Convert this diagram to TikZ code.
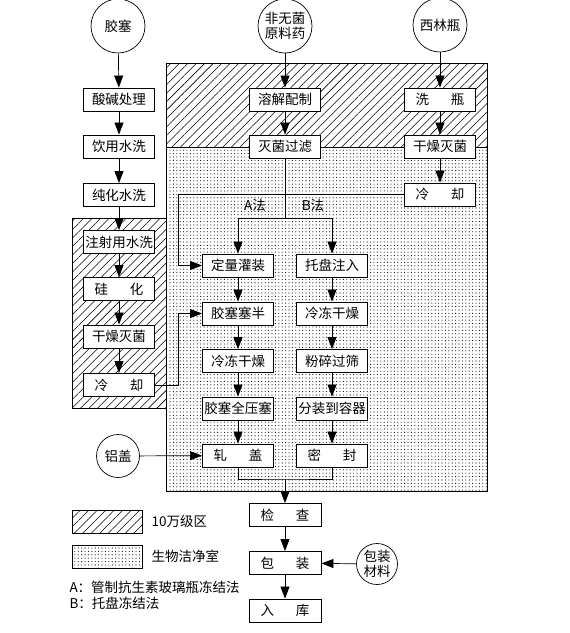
\documentclass[tikz,border=0pt]{standalone}
\usepackage{fontspec}
\setmainfont{Noto Sans CJK SC}
\usetikzlibrary{patterns.meta,arrows.meta}

\newcommand{\gap}{\hspace{1.6em}}

\begin{document}
\begin{tikzpicture}[x=1pt,y=-1pt,
    font=\fontsize{13.5}{15}\selectfont,
    box/.style={draw,line width=0.9pt,fill=white,minimum width=71pt,minimum height=23pt,inner sep=0pt},
    src/.style={draw,circle,line width=0.7pt,fill=white,inner sep=0pt,align=center},
    arr/.style={line width=0.7pt,-{Triangle[length=12pt,width=9pt]}},
    link/.style={line width=0.7pt},
    hatcharea/.style={draw,line width=0.6pt,pattern={Lines[angle=45,distance=6pt,line width=0.55pt]}},
    dotarea/.style={draw,line width=0.6pt,pattern={Dots[distance=3.4pt,radius=0.55pt]}}]
  \useasboundingbox (0,0) rectangle (570,633);

  % clean areas
  \draw[hatcharea] (166,63) rectangle (487,147);
  \draw[dotarea] (166,147) rectangle (487,491);
  \draw[hatcharea] (72,218) rectangle (166,408);

  % stopper line
  \node[src,minimum size=54pt] (jiaosai) at (118,26) {胶塞};
  \node[box] (sjcl) at (119,99.5) {酸碱处理};
  \node[box] (yysx) at (119,146.5) {饮用水洗};
  \node[box] (chsx) at (119,195) {纯化水洗};
  \node[box] (zsysx) at (119,242) {注射用水洗};
  \node[box] (gh) at (119,289) {硅\gap 化};
  \node[box] (gzmj1) at (119,336.5) {干燥灭菌};
  \node[box] (lq1) at (119,385) {冷\gap 却};

  % drug line
  \node[src,minimum size=54pt] (yl) at (285,26) {非无菌\\原料药};
  \node[box] (rjpz) at (285,99.5) {溶解配制};
  \node[box] (mjgl) at (285,146.5) {灭菌过滤};

  % vial line
  \node[src,minimum size=54pt] (xlp) at (440,25) {西林瓶};
  \node[box] (xp) at (440,99.5) {洗\gap 瓶};
  \node[box] (gzmj2) at (440,146.5) {干燥灭菌};
  \node[box] (lq2) at (440,194.5) {冷\gap 却};

  % A and B
  \node (fa) at (255,205) {A法};
  \node (fb) at (313,205) {B法};
  \node[box] (dlgz) at (238,265.5) {定量灌装};
  \node[box] (jssb) at (238,313.5) {胶塞塞半};
  \node[box] (ldgz1) at (238,361) {冷冻干燥};
  \node[box] (jsqys) at (238,408.5) {胶塞全压塞};
  \node[box] (zg) at (238,455.5) {轧\gap 盖};
  \node[box] (tpzr) at (332,265.5) {托盘注入};
  \node[box] (ldgz2) at (332,313.5) {冷冻干燥};
  \node[box] (fsgs) at (332,361) {粉碎过筛};
  \node[box] (fzdrq) at (332,408.5) {分装到容器};
  \node[box] (mf) at (332,455.5) {密\gap 封};
  \node[src,minimum size=43pt] (lg) at (118,456) {铝盖};

  % end of line
  \node[box,minimum width=72pt] (jc) at (285,515) {检\gap 查};
  \node[box,minimum width=72pt] (bz) at (285,563) {包\gap 装};
  \node[box,minimum width=72pt] (rk) at (285,610.5) {入\gap 库};
  \node[src,minimum size=41pt] (bzcl) at (377,564) {包装\\材料};

  \foreach \a/\b in {jiaosai/sjcl,sjcl/yysx,yysx/chsx,chsx/zsysx,zsysx/gh,gh/gzmj1,gzmj1/lq1,
      yl/rjpz,rjpz/mjgl,xlp/xp,xp/gzmj2,gzmj2/lq2,
      dlgz/jssb,jssb/ldgz1,ldgz1/jsqys,jsqys/zg,tpzr/ldgz2,ldgz2/fsgs,fsgs/fzdrq,fzdrq/mf,
      jc/bz,bz/rk,lg/zg,bzcl/bz}
    \draw[arr] (\a) -- (\b);

  \coordinate (split) at (285,218);
  \coordinate (join) at (285,479);
  \coordinate (side) at (178,0);
  \draw[link] (mjgl) -- (split);
  \draw[arr] (split) -| (dlgz);
  \draw[arr] (split) -| (tpzr);
  \draw[arr] (lq2.west) -- (lq2.west -| side) |- (dlgz.west);
  \draw[arr] (lq1.east) -- (lq1.east -| side) |- (jssb.west);
  \draw[link] (zg) |- (join) -| (mf);
  \draw[arr] (join) -- (jc);

  % legend
  \draw[hatcharea] (72,510) rectangle (142,533);
  \node[anchor=west] (lg1) at (148,521.5) {10万级区};
  \draw[dotarea] (72,545) rectangle (142,568);
  \node[anchor=west] (lg2) at (148,556.5) {生物洁净室};
  \node[anchor=west] (notea) at (66,587) {A：管制抗生素玻璃瓶冻结法};
  \node[anchor=west] (noteb) at (66,603) {B：托盘冻结法};
\end{tikzpicture}
\end{document}
